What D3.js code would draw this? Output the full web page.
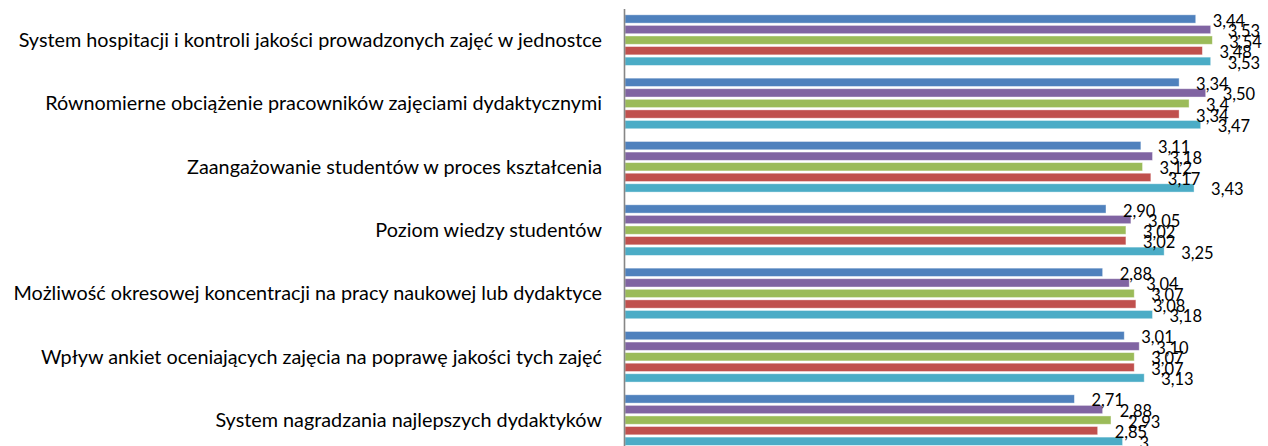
<!DOCTYPE html>
<html>
<head>
<meta charset="utf-8">
<script src="https://cdn.jsdelivr.net/npm/d3@7"></script>
<style>
  html, body { margin: 0; padding: 0; background: #fff; }
  svg { display: block; }
</style>
</head>
<body>
<svg id="chart" width="1268" height="446"></svg>
<script>
const categories = [
  "System hospitacji i kontroli jakości prowadzonych zajęć w jednostce",
  "Równomierne obciążenie pracowników zajęciami dydaktycznymi",
  "Zaangażowanie studentów w proces kształcenia",
  "Poziom wiedzy studentów",
  "Możliwość okresowej koncentracji na pracy naukowej lub dydaktyce",
  "Wpływ ankiet oceniających zajęcia na poprawę jakości tych zajęć",
  "System nagradzania najlepszych dydaktyków"
];
const seriesNames = ["s1", "s2", "s3", "s4", "s5"];
const seriesColors = ["#4F81BD", "#8064A2", "#9BBB59", "#C0504D", "#4BACC6"];
const s1 = [3.44, 3.34, 3.11, 2.90, 2.88, 3.01, 2.71];
const s2 = [3.53, 3.50, 3.18, 3.05, 3.04, 3.10, 2.88];
const s3 = [3.54, 3.40, 3.12, 3.02, 3.07, 3.07, 2.93];
const s4 = [3.48, 3.34, 3.17, 3.02, 3.08, 3.07, 2.85];
const s5 = [3.53, 3.47, 3.43, 3.25, 3.18, 3.13, 3.00];
const l1 = ["3,44", "3,34", "3,11", "2,90", "2,88", "3,01", "2,71"];
const l2 = ["3,53", "3,50", "3,18", "3,05", "3,04", "3,10", "2,88"];
const l3 = ["3,54", "3,4", "3,12", "3,02", "3,07", "3,07", "2,93"];
const l4 = ["3,48", "3,34", "3,17", "3,02", "3,08", "3,07", "2,85"];
const l5 = ["3,53", "3,47", "3,43", "3,25", "3,18", "3,13", "3"];
const seriesValues = [s1, s2, s3, s4, s5];
const seriesLabels = [l1, l2, l3, l4, l5];

const svg = d3.select("#chart");
const axisX = 624;

const x = d3.scaleLinear().domain([0, 4]).range([axisX, axisX + 4 * 166.2]);
const y = d3.scaleBand().domain(categories).range([8.5, 451.8])
  .paddingInner(0.165).paddingOuter(0.0825);
const y1 = d3.scaleBand().domain(seriesNames).range([0, y.bandwidth()]).padding(0);

const font = "Lato, 'Open Sans', sans-serif";

const groups = svg.append("g").selectAll("g")
  .data(categories)
  .join("g")
  .attr("transform", d => `translate(0,${y(d)})`);

groups.each(function(cat, ci) {
  const g = d3.select(this);
  seriesNames.forEach((s, si) => {
    const v = seriesValues[si][ci];
    g.append("rect")
      .attr("x", x(0) + 1)
      .attr("y", y1(s) + 1.1)
      .attr("width", x(v) - x(0) - 1)
      .attr("height", 8.3)
      .attr("fill", seriesColors[si])
      .attr("stroke", "rgba(255,255,255,0.5)")
      .attr("stroke-width", 0.8);
  });
  seriesNames.forEach((s, si) => {
    const v = seriesValues[si][ci];
    g.append("text")
      .attr("x", x(v) + 17)
      .attr("y", y1(s) + y1.bandwidth() / 2 + 1.5)
      .attr("dominant-baseline", "central")
      .attr("font-family", font)
      .attr("font-size", 16.5)
      .attr("fill", "#000")
      .text(seriesLabels[si][ci]);
  });
});

const axis = d3.axisLeft(y).tickSize(0).tickPadding(22);
const ga = svg.append("g").attr("transform", `translate(${axisX},0)`).call(axis);
ga.select(".domain").attr("stroke", "#868686").attr("stroke-width", 1.6);
const tickTexts = ga.selectAll("text")
  .attr("font-family", font)
  .attr("font-size", 18)
  .attr("fill", "#000")
  .attr("dy", "0.35em");
// fit the longest label to the reference width (~584px)
const w0 = tickTexts.nodes()[0].getComputedTextLength();
const fs = Math.max(14, Math.min(22, 18 * 584 / w0));
tickTexts.attr("font-size", fs);
</script>
</body>
</html>
